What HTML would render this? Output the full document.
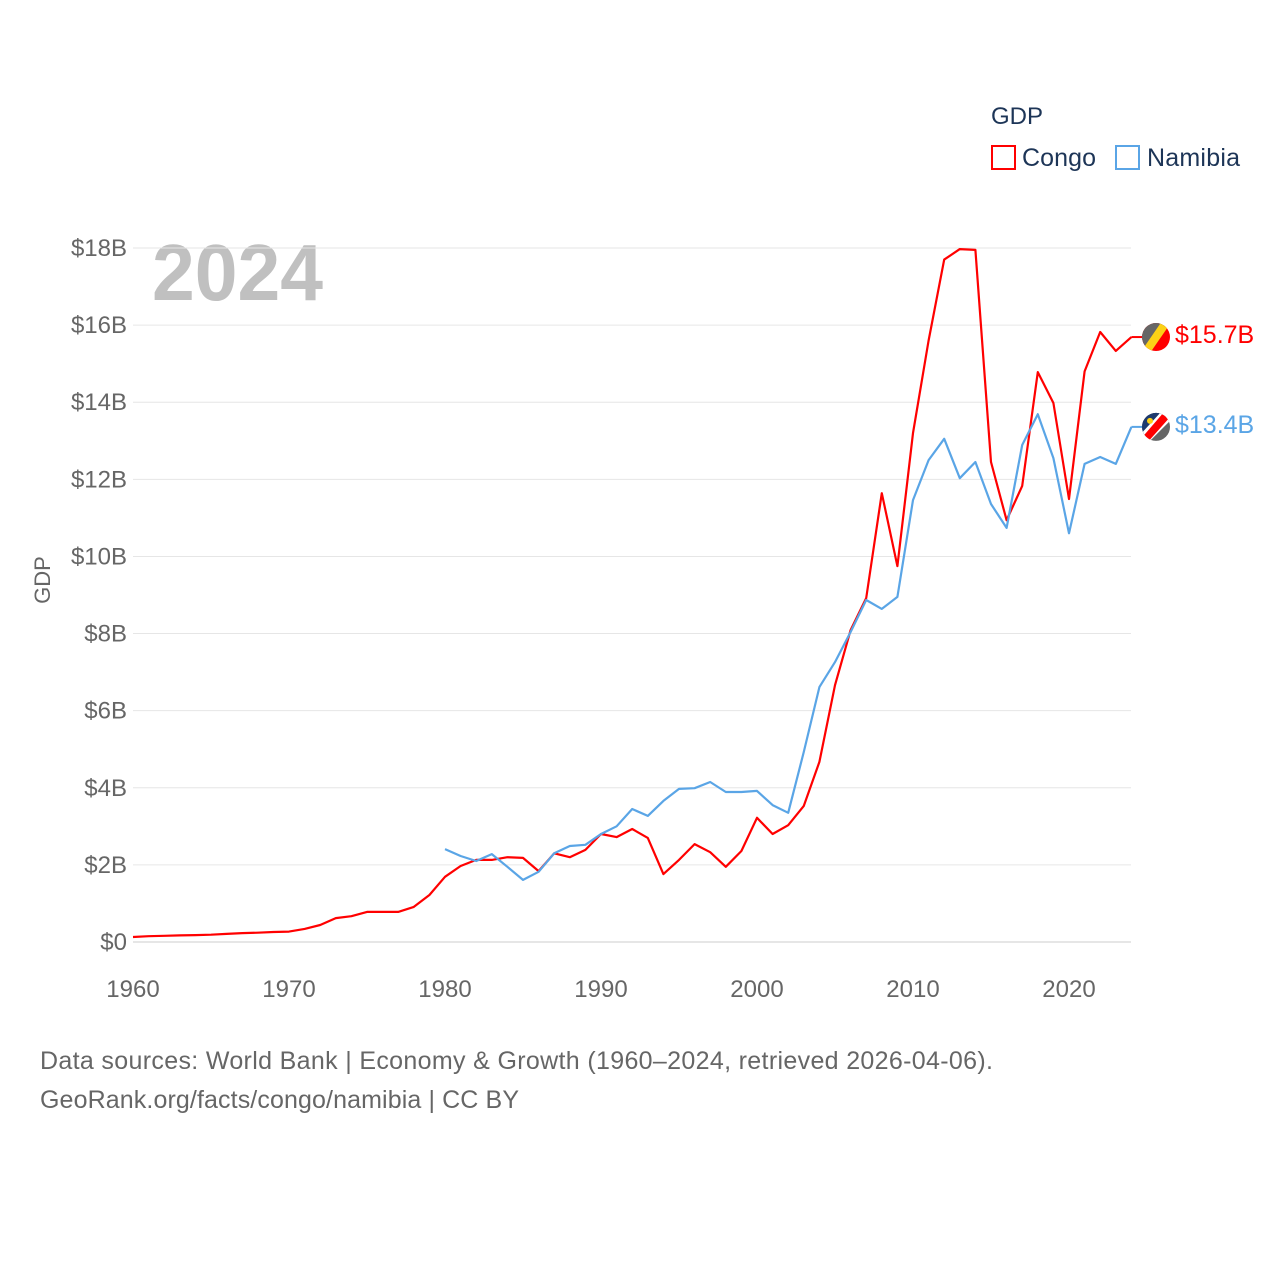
<!DOCTYPE html>
<html><head><meta charset="utf-8"><style>
body{margin:0;background:#fff;width:1280px;height:1280px;overflow:hidden;font-family:"Liberation Sans",sans-serif}
</style></head><body>
<svg id="chart" width="1280" height="1280" xmlns="http://www.w3.org/2000/svg" font-family="Liberation Sans, sans-serif">
<text x="991" y="124" font-size="24" fill="#1d3557">GDP</text>
<rect x="992" y="146" width="23" height="23" fill="none" stroke="#f00" stroke-width="2"/>
<text x="1022" y="166" font-size="25" fill="#1d3557" textLength="74">Congo</text>
<rect x="1116" y="146" width="23" height="23" fill="none" stroke="#5aa5e6" stroke-width="2"/>
<text x="1147" y="166" font-size="25" fill="#1d3557" textLength="93">Namibia</text>
<text x="152" y="300" font-size="80" font-weight="bold" fill="#c0c0c0" textLength="171" lengthAdjust="spacingAndGlyphs">2024</text>
<text transform="translate(50,580) rotate(-90)" text-anchor="middle" font-size="22" fill="#666">GDP</text>
<g id="grid"></g><g id="lines"></g>
<text x="40" y="1069" font-size="25" fill="#666" textLength="953">Data sources: World Bank | Economy &amp; Growth (1960–2024, retrieved 2026-04-06).</text>
<text x="40" y="1108" font-size="25" fill="#666" textLength="479">GeoRank.org/facts/congo/namibia | CC BY</text>
</svg>
<script>
const yTicks=[0,2,4,6,8,10,12,14,16,18];
const xTicks=[1960,1970,1980,1990,2000,2010,2020];
const congoStart=1960;
const congoValues=[0.13,0.15,0.16,0.17,0.18,0.19,0.21,0.23,0.24,0.26,0.27,0.34,0.44,0.62,0.67,0.78,0.78,0.78,0.91,1.22,1.69,1.97,2.13,2.13,2.2,2.18,1.84,2.3,2.2,2.39,2.8,2.72,2.93,2.7,1.76,2.13,2.54,2.33,1.95,2.36,3.22,2.8,3.03,3.53,4.67,6.66,8.09,8.92,11.64,9.75,13.2,15.6,17.7,17.97,17.95,12.45,10.94,11.83,14.78,13.98,11.49,14.8,15.82,15.33,15.69];
const namibiaStart=1980;
const namibiaValues=[2.41,2.23,2.1,2.28,1.95,1.61,1.82,2.3,2.49,2.52,2.8,3.0,3.45,3.27,3.66,3.97,3.99,4.15,3.89,3.89,3.92,3.55,3.35,4.93,6.61,7.26,8.04,8.87,8.64,8.95,11.46,12.5,13.05,12.03,12.45,11.36,10.74,12.89,13.69,12.55,10.6,12.4,12.58,12.4,13.36];
const NS='http://www.w3.org/2000/svg';
const x=yr=>133+(yr-1960)*15.6;
const y=v=>942-v*38.556;
const grid=document.getElementById('grid'),lines=document.getElementById('lines');
function mk(t,a,p){const e=document.createElementNS(NS,t);for(const k in a)e.setAttribute(k,a[k]);p.appendChild(e);return e;}
yTicks.forEach(v=>{
 const l=mk('line',{x1:133,x2:1131,y1:y(v),y2:y(v),stroke:v===0?'#ccc':'#e6e6e6','stroke-width':1},grid);
 
 
 const t=mk('text',{x:127,y:y(v)+8,'text-anchor':'end','font-size':24,fill:'#666'},grid);
 t.textContent='$'+v+(v?'B':'');
 
 
});
xTicks.forEach(v=>{
 const t=mk('text',{x:x(v),y:997,'text-anchor':'middle','font-size':24,fill:'#666'},grid);
 t.textContent=v;
 
 
});
function series(vals,start,color,name){
 const d=vals.map((v,i)=>(i?'L':'M')+x(start+i).toFixed(1)+','+y(v).toFixed(1)).join('');
 const p=mk('path',{d:d,fill:'none',stroke:color,'stroke-width':2.2,'stroke-linejoin':'round'},lines);
 
 
 const last=vals[vals.length-1],ly=y(last);
 mk('line',{x1:x(start+vals.length-1),x2:1143,y1:ly,y2:ly,stroke:color,'stroke-width':2},lines);
 const t=mk('text',{x:1175,y:ly+6,'font-size':25,fill:color},lines);
 t.textContent='$'+last.toFixed(1)+'B';
 
 
 return ly;
}
const cy=series(congoValues,congoStart,'#f00','congo');
const ny=series(namibiaValues,namibiaStart,'#5aa5e6','namibia');
lines.insertAdjacentHTML('beforeend',`
<defs><clipPath id="c1"><circle cx="1156" cy="${cy}" r="14"/></clipPath><clipPath id="c2"><circle cx="1156" cy="${ny}" r="14"/></clipPath></defs>
<g clip-path="url(#c1)"><rect x="1140" y="${cy-16}" width="32" height="32" fill="#f00"/><polygon points="1140,${cy-16} 1172,${cy-16} 1140,${cy+16}" fill="#666"/><polygon points="1162,${cy-16} 1172,${cy-16} 1150,${cy+16} 1140,${cy+16}" fill="#fcd116"/></g>
<g clip-path="url(#c2)"><rect x="1140" y="${ny-16}" width="32" height="32" fill="#666"/><polygon points="1140,${ny-16} 1172,${ny-16} 1140,${ny+16}" fill="#1d3a6e"/><polygon points="1162,${ny-16} 1172,${ny-16} 1172,${ny-8} 1148,${ny+16} 1140,${ny+16} 1140,${ny+8}" fill="#fff"/><polygon points="1165,${ny-16} 1172,${ny-12} 1147,${ny+16} 1140,${ny+13}" fill="#f00"/><circle cx="1150" cy="${ny-6}" r="3" fill="#fcd116"/></g>`);
</script>
</body></html>
